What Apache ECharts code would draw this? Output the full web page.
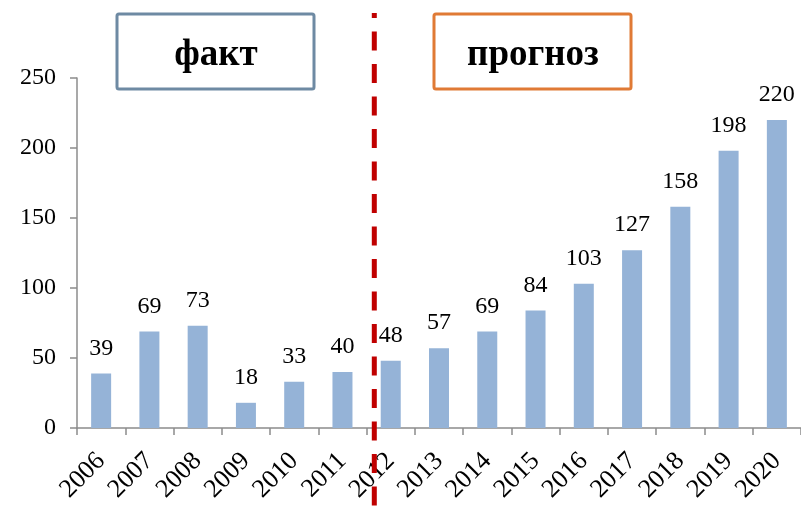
<!DOCTYPE html>
<html>
<head>
<meta charset="utf-8">
<script src="https://cdn.jsdelivr.net/npm/echarts@6/dist/echarts.min.js"></script>
<style>html,body{margin:0;padding:0;background:#fff;}#c{width:801px;height:506px;}</style>
</head>
<body>
<div id="c"></div>
<script>
var years = ['2006','2007','2008','2009','2010','2011','2012','2013','2014','2015','2016','2017','2018','2019','2020'];
var values = [39, 69, 73, 18, 33, 40, 48, 57, 69, 84, 103, 127, 158, 198, 220];
var yTicks = [0, 50, 100, 150, 200, 250];
var boxLabels = ['факт', 'прогноз'];

var chart = echarts.init(document.getElementById('c'), null, {renderer: 'canvas'});
var font = '"Liberation Serif", "Times New Roman", serif';
var axisColor = '#8c8c8c';
chart.setOption({
  animation: false,
  backgroundColor: '#ffffff',
  grid: {left: 77, right: -6, top: 78, bottom: 78, containLabel: false},
  xAxis: {
    type: 'category',
    data: years,
    axisLine: {lineStyle: {color: axisColor, width: 1.5}},
    axisTick: {show: true, length: 7, alignWithLabel: false, lineStyle: {color: axisColor, width: 1.5}},
    axisLabel: {rotate: 45, margin: 29, color: '#000', fontFamily: font, fontSize: 26, interval: 0}
  },
  yAxis: {
    type: 'value',
    min: yTicks[0],
    max: yTicks[yTicks.length - 1],
    interval: yTicks[1] - yTicks[0],
    splitLine: {show: false},
    axisLine: {show: true, lineStyle: {color: axisColor, width: 1.5}},
    axisTick: {show: true, inside: false, length: 7, lineStyle: {color: axisColor, width: 1.5}},
    axisLabel: {margin: 21, color: '#000', fontFamily: font, fontSize: 24}
  },
  series: [{
    type: 'bar',
    data: values,
    barWidth: 20,
    itemStyle: {color: '#95B3D7'},
    label: {show: true, position: 'top', distance: 13, color: '#000', fontFamily: font, fontSize: 24}
  }],
  graphic: [
    {type: 'rect', shape: {x: 117, y: 14, width: 197, height: 75, r: 2}, style: {fill: '#fff', stroke: '#6E8AA3', lineWidth: 3}, z: 10},
    {type: 'text', x: 216, y: 55, style: {text: boxLabels[0], font: 'bold 37px ' + font, fill: '#000', textAlign: 'center', textVerticalAlign: 'middle'}, z: 11},
    {type: 'rect', shape: {x: 434, y: 14, width: 197, height: 75, r: 2}, style: {fill: '#fff', stroke: '#E07A35', lineWidth: 3}, z: 10},
    {type: 'text', x: 533, y: 55, style: {text: boxLabels[1], font: 'bold 37px ' + font, fill: '#000', textAlign: 'center', textVerticalAlign: 'middle'}, z: 11},
    {type: 'line', shape: {x1: 374.3, y1: 13, x2: 374.3, y2: 506}, style: {stroke: '#C00000', lineWidth: 5, lineDash: [19, 13.5], lineDashOffset: 14}, z: 12}
  ]
});
</script>
</body>
</html>
